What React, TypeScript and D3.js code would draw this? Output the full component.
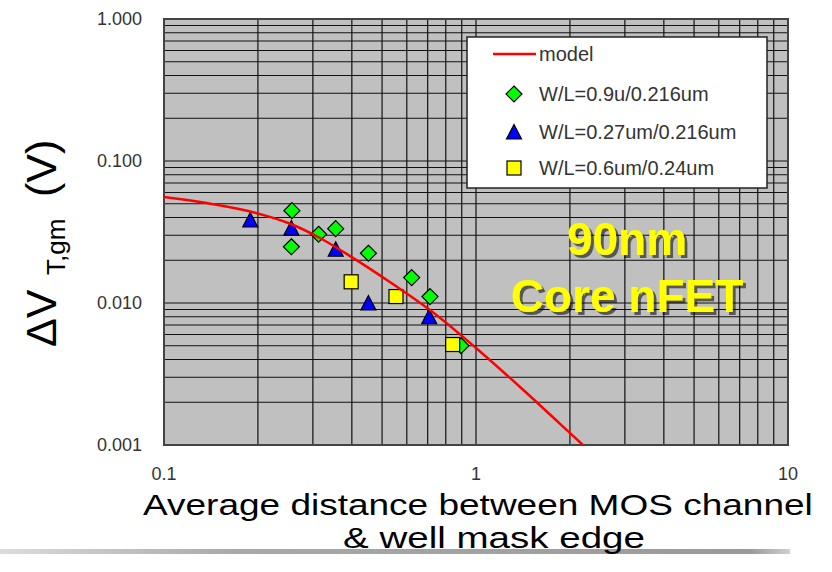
import { useEffect, useRef } from 'react';
import * as d3 from 'd3';

// W/L=0.9u/0.216um (green diamonds)
const diamondX = [0.257, 0.256, 0.313, 0.355, 0.452, 0.622, 0.712, 0.895];
const diamondY = [0.0447, 0.0249, 0.0305, 0.0334, 0.0224, 0.0151, 0.0111, 0.005];

// W/L=0.27um/0.216um (blue triangles)
const triangleX = [0.189, 0.256, 0.355, 0.452, 0.708];
const triangleY = [0.0384, 0.0337, 0.0239, 0.01, 0.008];

// W/L=0.6um/0.24um (yellow squares)
const squareX = [0.398, 0.554, 0.842];
const squareY = [0.0141, 0.0111, 0.0051];

// model curve
const modelX = [0.1, 0.137, 0.189, 0.255, 0.316, 0.395, 0.558, 0.712, 1.0, 1.384, 1.859, 2.236];
const modelY = [0.0558, 0.0506, 0.0441, 0.036, 0.0287, 0.0214, 0.013, 0.00893, 0.00482, 0.00256, 0.00141, 0.00097];

const yTickValues = [0.001, 0.01, 0.1, 1];
const xTickValues = [0.1, 1, 10];
const legendLabels = ['model', 'W/L=0.9u/0.216um', 'W/L=0.27um/0.216um', 'W/L=0.6um/0.24um'];

const FONT = "Arial, 'Liberation Sans', sans-serif";

const ScatterChart = () => {
  const chartRef = useRef<SVGSVGElement>(null);

  useEffect(() => {
    if (!chartRef.current) return;
    const svg = d3.select(chartRef.current);
    svg.selectAll('*').remove();

    const plot = { left: 164, right: 788, top: 19, bottom: 445 };

    const x = d3.scaleLog().domain([0.1, 10]).range([plot.left, plot.right]);
    const y = d3.scaleLog().domain([0.001, 1]).range([plot.bottom, plot.top]);

    // defs: rule gradient, clip, text shadow
    const defs = svg.append('defs');
    const grad = defs.append('linearGradient').attr('id', 'ruleGrad');
    grad.append('stop').attr('offset', '0%').attr('stop-color', '#dcdcdc');
    grad.append('stop').attr('offset', '30%').attr('stop-color', '#a8a8a8');
    grad.append('stop').attr('offset', '95%').attr('stop-color', '#9a9a9a');
    grad.append('stop').attr('offset', '100%').attr('stop-color', '#d0d0d0');
    defs.append('clipPath').attr('id', 'plotClip')
      .append('rect')
      .attr('x', plot.left).attr('y', plot.top)
      .attr('width', plot.right - plot.left).attr('height', plot.bottom - plot.top);
    defs.append('filter').attr('id', 'txtShadow')
      .attr('x', '-10%').attr('y', '-10%').attr('width', '130%').attr('height', '140%')
      .append('feDropShadow')
      .attr('dx', 3).attr('dy', 3).attr('stdDeviation', 0.4)
      .attr('flood-color', '#000').attr('flood-opacity', 0.55);

    svg.append('rect')
      .attr('x', 0).attr('y', 549).attr('width', 790).attr('height', 5)
      .attr('fill', 'url(#ruleGrad)');

    // plot background
    svg.append('rect')
      .attr('x', plot.left).attr('y', plot.top)
      .attr('width', plot.right - plot.left).attr('height', plot.bottom - plot.top)
      .attr('fill', '#c0c0c0');

    // grid
    const grid = svg.append('g').attr('stroke', '#111').attr('stroke-width', 1.2);
    grid.selectAll('.vx')
      .data(x.ticks())
      .enter()
      .append('line')
      .attr('x1', (d) => x(d)).attr('x2', (d) => x(d))
      .attr('y1', plot.top).attr('y2', plot.bottom);
    grid.selectAll('.hy')
      .data(y.ticks())
      .enter()
      .append('line')
      .attr('y1', (d) => y(d)).attr('y2', (d) => y(d))
      .attr('x1', plot.left).attr('x2', plot.right);

    // border
    svg.append('rect')
      .attr('x', plot.left).attr('y', plot.top)
      .attr('width', plot.right - plot.left).attr('height', plot.bottom - plot.top)
      .attr('fill', 'none').attr('stroke', '#444').attr('stroke-width', 2);

    // tick labels
    svg.append('g')
      .selectAll('text')
      .data(yTickValues)
      .enter()
      .append('text')
      .attr('x', 142)
      .attr('y', (d) => y(d))
      .attr('dy', '0.35em')
      .attr('text-anchor', 'end')
      .attr('font-family', FONT)
      .attr('font-size', 18)
      .attr('fill', '#333')
      .text((d) => d3.format('.3f')(d));

    svg.append('g')
      .selectAll('text')
      .data(xTickValues)
      .enter()
      .append('text')
      .attr('x', (d) => x(d))
      .attr('y', 480)
      .attr('text-anchor', 'middle')
      .attr('font-family', FONT)
      .attr('font-size', 18)
      .attr('fill', '#333')
      .text((d) => String(d));

    // markers
    const marks = svg.append('g').attr('clip-path', 'url(#plotClip)');
    const diamondPath = 'M0,-8L8,0L0,8L-8,0Z';
    const trianglePath = 'M0,-7.5L7.5,7L-7.5,7Z';

    marks.selectAll('.dia')
      .data(diamondX.map((v, i) => [v, diamondY[i]]))
      .enter()
      .append('path')
      .attr('d', diamondPath)
      .attr('transform', (d) => `translate(${x(d[0])},${y(d[1])})`)
      .attr('fill', '#00ff00').attr('stroke', '#000').attr('stroke-width', 1.2);

    marks.selectAll('.tri')
      .data(triangleX.map((v, i) => [v, triangleY[i]]))
      .enter()
      .append('path')
      .attr('d', trianglePath)
      .attr('transform', (d) => `translate(${x(d[0])},${y(d[1])})`)
      .attr('fill', '#0000ff').attr('stroke', '#000').attr('stroke-width', 1.2);

    marks.selectAll('.sq')
      .data(squareX.map((v, i) => [v, squareY[i]]))
      .enter()
      .append('rect')
      .attr('x', (d) => x(d[0]) - 7).attr('y', (d) => y(d[1]) - 7)
      .attr('width', 14).attr('height', 14)
      .attr('fill', '#ffff00').attr('stroke', '#000').attr('stroke-width', 1.2);

    // model curve
    const line = d3.line<number>()
      .x((d) => x(modelX[d]))
      .y((d) => y(modelY[d]))
      .curve(d3.curveMonotoneX);
    marks.append('path')
      .attr('d', line(modelX.map((_, i) => i)))
      .attr('fill', 'none').attr('stroke', '#ff0000').attr('stroke-width', 2.5);

    // 90nm Core nFET annotation
    const note = svg.append('g')
      .attr('font-family', FONT).attr('font-weight', 'bold')
      .attr('font-size', 46).attr('text-anchor', 'middle')
      .attr('fill', '#ffff00').attr('filter', 'url(#txtShadow)');
    note.append('text').attr('x', 627).attr('y', 255).text('90nm');
    note.append('text').attr('x', 627).attr('y', 312).text('Core nFET');

    // legend
    const lg = svg.append('g');
    lg.append('rect')
      .attr('x', 467).attr('y', 37).attr('width', 300).attr('height', 151)
      .attr('fill', '#fff').attr('stroke', '#222').attr('stroke-width', 1.5);
    const rowY = [54, 94, 132, 168];
    lg.append('line')
      .attr('x1', 493).attr('x2', 536).attr('y1', rowY[0]).attr('y2', rowY[0])
      .attr('stroke', '#ff0000').attr('stroke-width', 2.5);
    lg.append('path').attr('d', diamondPath)
      .attr('transform', `translate(514,${rowY[1]})`)
      .attr('fill', '#00ff00').attr('stroke', '#000').attr('stroke-width', 1.2);
    lg.append('path').attr('d', trianglePath)
      .attr('transform', `translate(514,${rowY[2]})`)
      .attr('fill', '#0000ff').attr('stroke', '#000').attr('stroke-width', 1.2);
    lg.append('rect')
      .attr('x', 507).attr('y', rowY[3] - 7).attr('width', 14).attr('height', 14)
      .attr('fill', '#ffff00').attr('stroke', '#000').attr('stroke-width', 1.2);
    lg.selectAll('.lt')
      .data(legendLabels)
      .enter()
      .append('text')
      .attr('x', 539)
      .attr('y', (_, i) => rowY[i])
      .attr('dy', '0.36em')
      .attr('font-family', FONT)
      .attr('font-size', 20)
      .attr('fill', '#333')
      .text((d) => d);

    // y axis title
    const yt = svg.append('g')
      .attr('transform', 'translate(56,347) rotate(-90)')
      .attr('font-family', FONT).attr('fill', '#000');
    yt.append('text').attr('x', 0).attr('y', 0).attr('font-size', 43).text('\u0394V');
    yt.append('text').attr('x', 72).attr('y', 9).attr('font-size', 26).text('T,gm');
    yt.append('text').attr('x', 150).attr('y', 0).attr('font-size', 43).text('(V)');

    // x axis title, stretched horizontally like the slide
    const stretched = (tx: number, ty: number, w: number, s: string) => {
      const t = svg.append('text')
        .attr('x', 0).attr('y', 0)
        .attr('font-family', FONT).attr('font-size', 29).attr('fill', '#000')
        .text(s);
      const len = (t.node() as SVGTextElement).getComputedTextLength() || w;
      t.attr('transform', `translate(${tx},${ty}) scale(${w / len},1)`);
    };
    stretched(143, 515, 670, 'Average distance between MOS channel');
    stretched(343, 548, 302, '& well mask edge');
  }, []);

  return (
    <svg
      ref={chartRef}
      width={832}
      height={572}
      style={{ position: 'absolute', left: 0, top: 0, background: '#fff' }}
    ></svg>
  );
};

export default function App() {
  return <ScatterChart />;
}
